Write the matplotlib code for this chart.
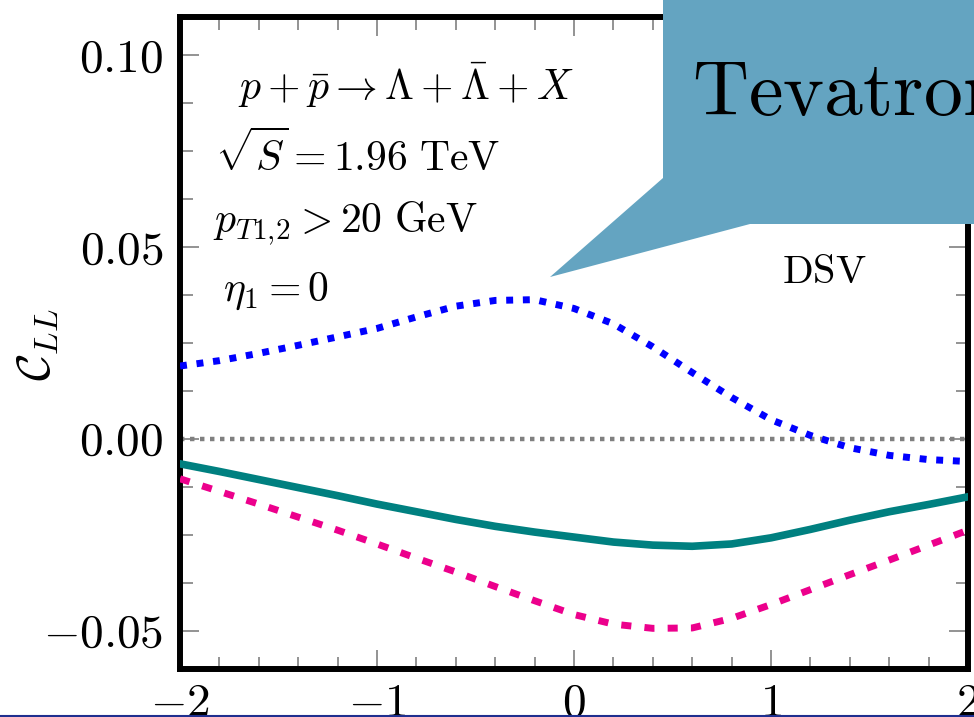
import matplotlib

matplotlib.use("Agg")
import matplotlib.pyplot as plt
from matplotlib.lines import Line2D
from matplotlib.patches import Polygon
from matplotlib.ticker import FuncFormatter, MultipleLocator

plt.rcParams["mathtext.fontset"] = "cm"
plt.rcParams["font.family"] = "serif"
plt.rcParams["font.serif"] = ["cmr10", "DejaVu Serif"]

# eta_2 grid and C_LL curves
eta = [-2.0, -1.8, -1.6, -1.4, -1.2, -1.0, -0.8, -0.6, -0.4, -0.2, 0.0,
       0.2, 0.4, 0.6, 0.8, 1.0, 1.2, 1.4, 1.6, 1.8, 2.0]
c_blue = [0.0190, 0.0204, 0.0223, 0.0244, 0.0266, 0.0288, 0.0318, 0.0346,
          0.0361, 0.0363, 0.0340, 0.0300, 0.0240, 0.0173, 0.0108, 0.0050,
          0.0009, -0.0023, -0.0043, -0.0054, -0.0059]
c_teal = [-0.0065, -0.0085, -0.0106, -0.0127, -0.0148, -0.0170, -0.0190,
          -0.0210, -0.0228, -0.0243, -0.0256, -0.0269, -0.0277, -0.0280,
          -0.0274, -0.0258, -0.0236, -0.0212, -0.0190, -0.0171, -0.0151]
c_pink = [-0.0104, -0.0137, -0.0170, -0.0204, -0.0238, -0.0274, -0.0311,
          -0.0347, -0.0385, -0.0422, -0.0458, -0.0483, -0.0494, -0.0493,
          -0.0468, -0.0432, -0.0393, -0.0354, -0.0316, -0.0277, -0.0238]

W, H = 974, 717
fig = plt.figure(figsize=(W / 100, H / 100), dpi=100)
ax = fig.add_axes([180 / W, 48 / H, 788 / W, 652 / H])

ax.axhline(0.0, color="#808080", lw=3.2, dashes=(1.0, 1.25), zorder=1)
ax.plot(eta, c_blue, color="#0000ff", lw=5.0, dashes=(1.0, 1.4), zorder=3)
ax.plot(eta, c_teal, color="#008080", lw=5.5, zorder=3)
ax.plot(eta, c_pink, color="#ec008c", lw=5.0, dashes=(1.45, 1.9), zorder=3)

ax.set_xlim(-2, 2)
ax.set_ylim(-0.06, 0.11)
ax.xaxis.set_major_locator(MultipleLocator(1))
ax.xaxis.set_minor_locator(MultipleLocator(0.2))
ax.yaxis.set_major_locator(MultipleLocator(0.05))
ax.yaxis.set_minor_locator(MultipleLocator(0.0125))
ax.xaxis.set_major_formatter(FuncFormatter(lambda v, p: r"$%d$" % round(v)))
ax.yaxis.set_major_formatter(FuncFormatter(lambda v, p: r"$%.2f$" % v))

for side in ax.spines.values():
    side.set_linewidth(4.3)
    side.set_color("black")
ax.tick_params(which="both", direction="in", top=True, right=True,
               color="#808080", width=1.2)
ax.tick_params(which="major", length=13.5, labelsize=34)
ax.tick_params(axis="y", which="major", pad=12)
ax.tick_params(axis="x", which="major", pad=10)
ax.tick_params(which="minor", length=9)

ax.set_ylabel(r"$\mathcal{C}_{LL}$", fontsize=34)
ax.yaxis.set_label_coords(-0.152, 0.497)

ax.text(-1.706, 0.0883, r"$p+\bar{p}\rightarrow\Lambda+\bar{\Lambda}+X$",
        fontsize=30, va="baseline")
ax.text(-1.822, 0.0699, r"$\sqrt{S}=1.96\ \mathrm{TeV}$",
        fontsize=30, va="baseline")
ax.text(-1.832, 0.0538, r"$p_{T1,\!2}>20\ \mathrm{GeV}$",
        fontsize=30, va="baseline")
ax.text(-1.78, 0.0359, r"$\eta_1=0$", fontsize=30, va="baseline")
ax.text(1.056, 0.0407, r"$\mathrm{DSV}$", fontsize=29, va="baseline")

# speech-bubble callout pasted over the top right corner
bubble_px = [(663, 0), (W, 0), (W, 224), (750, 224), (550, 277), (663, 178)]
bubble = Polygon([(x / W, 1 - y / H) for x, y in bubble_px], closed=True,
                 transform=fig.transFigure, facecolor="#64a4c1",
                 edgecolor="none", zorder=5)
fig.add_artist(bubble)
fig.text(692 / W, 1 - 115 / H, r"$\mathrm{Tevatron}$", fontsize=56,
         va="baseline", zorder=6)

fig.add_artist(Line2D([0, 1], [1.0 / H, 1.0 / H], transform=fig.transFigure,
                      color="#1f2f8f", lw=1.5, zorder=6))

fig.savefig("out.png", dpi=100)
